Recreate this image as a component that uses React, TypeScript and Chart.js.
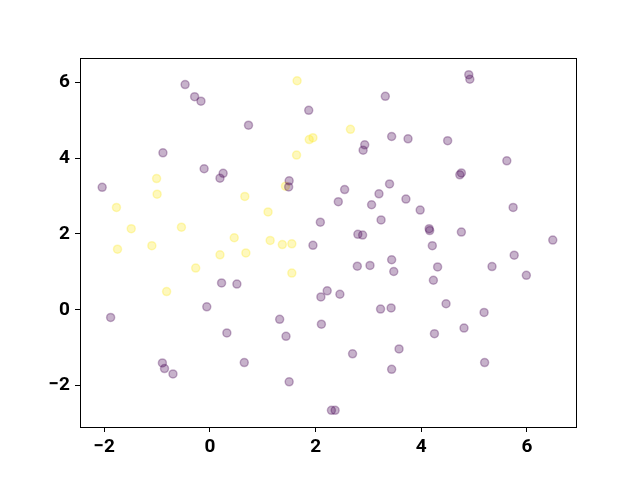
import React, { useEffect, useRef } from "react";
import { Chart, registerables } from "chart.js";

Chart.register(...registerables);

const purpleX = [-2.04, -1.88, -0.89, -0.9, -0.86, -0.7, -0.47, -0.29, -0.17, -0.11, -0.06, 0.19, 0.25, 0.22, 0.51, 0.32, 0.65, 0.73, 1.32, 1.44, 1.5, 1.49, 1.5, 1.87, 1.95, 2.09, 2.1, 2.11, 2.22, 2.3, 2.37, 2.46, 2.43, 2.55, 2.7, 2.79, 2.8, 2.89, 2.9, 2.93, 3.03, 3.06, 3.2, 3.23, 3.24, 3.32, 3.4, 3.44, 3.43, 3.44, 3.48, 3.44, 3.58, 3.71, 3.75, 3.98, 4.15, 4.16, 4.21, 4.23, 4.25, 4.31, 4.47, 4.5, 4.73, 4.76, 4.76, 4.81, 4.9, 4.92, 5.19, 5.2, 5.34, 5.62, 5.74, 5.76, 5.99, 6.49];
const purpleY = [3.23, -0.2, 4.14, -1.4, -1.55, -1.69, 5.94, 5.62, 5.5, 3.72, 0.08, 3.47, 3.6, 0.71, 0.68, -0.61, -1.39, 4.87, -0.25, -0.7, 3.4, 3.24, -1.9, 5.26, 1.7, 2.31, 0.34, -0.38, 0.5, -2.65, -2.65, 0.41, 2.85, 3.17, -1.16, 1.15, 1.99, 1.97, 4.21, 4.35, 1.17, 2.77, 3.06, 0.02, 2.37, 5.63, 3.32, 4.57, 0.05, 1.32, 1.01, -1.57, -1.03, 2.92, 4.51, 2.63, 2.14, 2.09, 1.69, 0.78, -0.63, 1.13, 0.16, 4.46, 3.56, 3.61, 2.05, -0.48, 6.2, 6.08, -0.07, -1.39, 1.14, 3.93, 2.7, 1.44, 0.91, 1.84];

const yellowX = [-1.77, -1.75, -1.49, -1.1, -1.01, -1.0, -0.82, -0.54, -0.27, 0.19, 0.46, 0.66, 0.68, 1.1, 1.14, 1.37, 1.43, 1.55, 1.55, 1.65, 1.64, 1.88, 1.95, 2.66];
const yellowY = [2.7, 1.6, 2.14, 1.69, 3.46, 3.05, 0.48, 2.18, 1.1, 1.45, 1.9, 2.99, 1.5, 2.58, 1.83, 1.72, 3.26, 1.74, 0.97, 6.04, 4.08, 4.49, 4.54, 4.76];

const xTicks = [-2, 0, 2, 4, 6];
const yTicks = [-2, 0, 2, 4, 6];

const PURPLE = "rgba(68, 1, 84, 0.3)";
const YELLOW = "rgba(253, 231, 37, 0.3)";

const framePlugin = {
  id: "frame",
  afterDraw(chart: any) {
    const { ctx, chartArea } = chart;
    ctx.save();
    ctx.strokeStyle = "#000";
    ctx.lineWidth = 1;
    ctx.strokeRect(
      Math.round(chartArea.left) + 0.5,
      Math.round(chartArea.top) + 0.5,
      Math.round(chartArea.right - chartArea.left),
      Math.round(chartArea.bottom - chartArea.top)
    );
    ctx.restore();
  },
};

export default function App() {
  const ref = useRef<HTMLCanvasElement>(null);
  useEffect(() => {
    if (!ref.current) return;
    const purple = purpleX.map((x, i) => ({ x, y: purpleY[i] }));
    const yellow = yellowX.map((x, i) => ({ x, y: yellowY[i] }));
    const tickFont = { family: "Roboto", size: 19, weight: "bold" as const };
    const chart = new Chart(ref.current, {
      type: "scatter",
      data: {
        datasets: [
          {
            data: purple,
            backgroundColor: PURPLE,
            borderColor: PURPLE,
            borderWidth: 1.5,
            pointRadius: 4,
          },
          {
            data: yellow,
            backgroundColor: YELLOW,
            borderColor: YELLOW,
            borderWidth: 1.5,
            pointRadius: 4,
          },
        ],
      },
      options: {
        animation: false,
        responsive: false,
        devicePixelRatio: 1,
        layout: { padding: { left: 0, right: 64, top: 58, bottom: 0 } },
        plugins: { legend: { display: false }, tooltip: { enabled: false } },
        scales: {
          x: {
            type: "linear",
            min: -2.46,
            max: 6.93,
            afterFit: (s: any) => {
              s.height = 53;
            },
            afterBuildTicks: (s: any) => {
              s.ticks = xTicks.map((v) => ({ value: v }));
            },
            grid: {
              drawOnChartArea: false,
              drawTicks: true,
              tickLength: 5,
              color: "#000",
              tickColor: "#000",
            },
            border: { display: false },
            ticks: {
              color: "#000",
              font: tickFont,
              padding: 4,
              maxRotation: 0,
              callback: (v: any) => String(v).replace("-", "\u2212"),
            },
          },
          y: {
            type: "linear",
            min: -3.09,
            max: 6.64,
            afterFit: (s: any) => {
              s.width = 80;
            },
            afterBuildTicks: (s: any) => {
              s.ticks = yTicks.map((v) => ({ value: v }));
            },
            grid: {
              drawOnChartArea: false,
              drawTicks: true,
              tickLength: 5,
              color: "#000",
              tickColor: "#000",
            },
            border: { display: false },
            ticks: {
              color: "#000",
              font: tickFont,
              padding: 5,
              callback: (v: any) => String(v).replace("-", "\u2212"),
            },
          },
        },
      },
      plugins: [framePlugin],
    });
    return () => chart.destroy();
  }, []);
  return (
    <div style={{ position: "fixed", left: 0, top: 0, width: 640, height: 480, background: "#fff" }}>
      <canvas ref={ref} width={640} height={480} style={{ width: 640, height: 480 }} />
    </div>
  );
}
